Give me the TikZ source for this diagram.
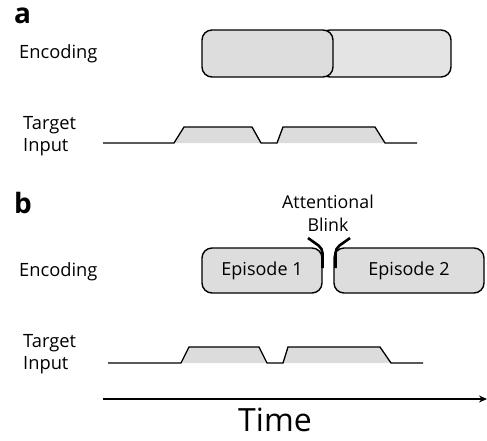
\documentclass[tikz,border=0pt]{standalone}
\usepackage{fontspec}
\setmainfont{Open Sans}
\usetikzlibrary{arrows.meta}
\definecolor{boxA}{HTML}{DDDDDD}
\definecolor{boxB}{HTML}{E4E4E4}
\definecolor{pulse}{HTML}{DCDCDC}
\begin{document}
\begin{tikzpicture}[x=1pt,y=-1pt,
  lbl/.style={font=\fontsize{18.3}{22}\selectfont, inner sep=0pt, anchor=west, align=left},
  panel/.style={font=\fontsize{28}{30}\selectfont\bfseries, inner sep=0pt, anchor=base west},
  encbox/.style={draw=black, line width=1.4pt, rounded corners=10pt},
  sig/.style={draw=black, line width=1.3pt},
  blink/.style={draw=black, line width=2.6pt}]
\useasboundingbox (0,0) rectangle (487,440);
% ---------- panel a ----------
\node[panel] (la) at (14,23) {a};
\node[lbl] (enca) at (19,54) {Encoding};
\node[lbl] (tia) at (23,136) {Target\\Input};
\draw[encbox, fill=boxB] (320,30) rectangle (451,77);
\draw[encbox, fill=boxA] (202,30) rectangle (333,77);
\fill[pulse] (174,143) -- (184,127) -- (252,127) -- (261,143) -- cycle;
\fill[pulse] (277,143) -- (283,127) -- (375,127) -- (385,143) -- cycle;
\draw[sig] (103,143) -- (174,143) -- (184,127) -- (252,127) -- (261,143) -- (277,143) -- (283,127) -- (375,127) -- (385,143) -- (417,143);
% ---------- panel b ----------
\node[panel] (lb) at (14,213) {b};
\node[lbl] (encb) at (19,272) {Encoding};
\node[lbl] (tib) at (23,354) {Target\\Input};
\node[lbl, anchor=center, align=center, font=\fontsize{17.8}{23}\selectfont] (ab) at (328,213) {Attentional\\Blink};
\node[encbox, fill=boxA, minimum width=120pt, minimum height=45pt, font=\fontsize{18}{21}\selectfont] (ep1) at (262,270.5) {Episode 1};
\node[encbox, fill=boxA, minimum width=150pt, minimum height=45pt, font=\fontsize{18}{21}\selectfont] (ep2) at (409,270.5) {Episode 2};
\draw[blink] (308,238) -- (318.5,245.5) to[out=-45,in=90] (322.5,253) -- (322.5,268);
\draw[blink] (350,238) -- (339.5,245.5) to[out=-135,in=90] (335.5,253) -- (335.5,268);
\fill[pulse] (181,363) -- (189,347) -- (259,347) -- (267,363) -- cycle;
\fill[pulse] (283,363) -- (288,347) -- (380,347) -- (391,363) -- cycle;
\draw[sig] (108,363) -- (181,363) -- (189,347) -- (259,347) -- (267,363) -- (283,363) -- (288,347) -- (380,347) -- (391,363) -- (423,363);
% ---------- time axis ----------
\coordinate (t0) at (103,399);
\coordinate (t1) at (487,399);
\draw[line width=1.6pt, -{Stealth[length=8pt,width=7pt]}] (t0) -- (t1);
\node[font=\fontsize{32}{36}\selectfont, inner sep=0pt, text depth=0pt, anchor=base] (time) at (275,431) {Time};
\end{tikzpicture}
\end{document}
